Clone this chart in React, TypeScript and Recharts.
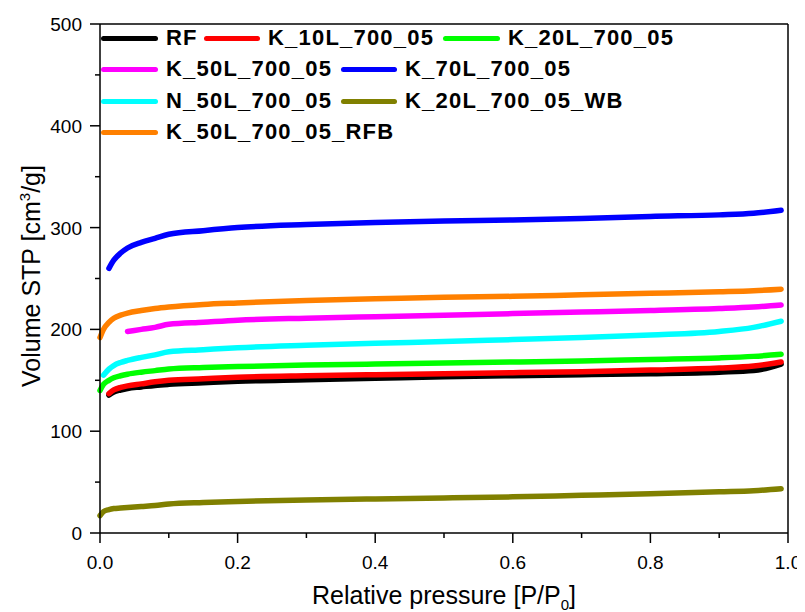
import React from 'react';
import { LineChart, Line, XAxis, YAxis, ReferenceLine } from 'recharts';

const pressure = [0, 0.005, 0.013, 0.02, 0.03, 0.04, 0.06, 0.08, 0.1, 0.15, 0.2, 0.3, 0.4, 0.5, 0.6, 0.7, 0.8, 0.9, 0.95, 0.99];

const rf = [null, null, 135.5, 138.5, 140.5, 142, 143.5, 145, 146, 147.5, 149, 150.5, 152, 153.5, 154.5, 155.5, 156.5, 158, 159.5, 166];
const k10 = [null, null, 137, 140.5, 143, 144.5, 146.5, 148.5, 150, 151.5, 153, 154.5, 155.5, 156.5, 157.5, 158.5, 160, 162, 164, 168];
const k20 = [140, 146, 150, 152.5, 154.5, 156, 158, 159.5, 161, 162.5, 163.5, 165, 166, 167, 168, 169, 170.5, 172, 173.5, 175.5];
const k50 = [null, null, null, null, null, 198, 200, 202, 205, 207, 209, 211, 212.5, 214, 215.5, 217, 218.5, 220.5, 222, 224];
const k70 = [null, null, 260, 268, 275, 280, 285.5, 289.5, 293.5, 297, 300, 303, 305, 306.5, 307.5, 309, 311, 312.5, 314, 317];
const n50 = [null, 155, 161, 164.5, 167.5, 169.5, 172.5, 175, 178, 180, 182, 184.5, 186.5, 188, 190, 192, 194.5, 198, 202, 208];
const k20wb = [17, 21, 23, 24, 24.5, 25, 26, 27, 28.5, 30, 31, 32.5, 33.5, 34.5, 35.5, 37, 38.5, 40.5, 41.5, 43.5];
const k50rfb = [192, 200, 207, 211, 214, 216, 218.5, 220.5, 222, 224.5, 226, 228.5, 230, 231.5, 232.5, 234, 235.5, 237, 238, 239.5];

const seriesNames = ['RF', 'K_10L_700_05', 'K_20L_700_05', 'K_50L_700_05', 'K_70L_700_05', 'N_50L_700_05', 'K_20L_700_05_WB', 'K_50L_700_05_RFB'];
const seriesValues = [rf, k10, k20, k50, k70, n50, k20wb, k50rfb];
const seriesColors = ['#000000', '#ff0000', '#00ff00', '#ff00ff', '#0000ff', '#00ffff', '#808000', '#ff8000'];

const xTicks = [0, 0.1, 0.2, 0.3, 0.4, 0.5, 0.6, 0.7, 0.8, 0.9, 1];
const yTicks = [0, 50, 100, 150, 200, 250, 300, 350, 400, 450, 500];

const data = pressure.map((p, i) => {
  const row: Record<string, number | null> = { p };
  seriesNames.forEach((name, s) => {
    row[name] = seriesValues[s][i];
  });
  return row;
});

const font = '"Liberation Sans", Arial, sans-serif';

// legend slots: [row, lineStart, textStart] in page px
const legendSlots = [
  [0, 101, 166],
  [0, 204, 268],
  [0, 443, 508],
  [1, 101, 166],
  [1, 341, 405],
  [2, 101, 166],
  [2, 341, 405],
  [3, 101, 166],
];
const rowY = [38, 69, 101, 132];

const YTick = (props: any) => {
  const { x, y, payload } = props;
  const major = payload.value % 100 === 0;
  return (
    <g>
      <line x1={x - (major ? 10 : 5)} x2={x} y1={y} y2={y} stroke="#000" strokeWidth={1.5} />
      {major && (
        <text x={x - 18} y={y + 7} textAnchor="end" fontSize={19} fontFamily={font} fill="#000">
          {payload.value}
        </text>
      )}
    </g>
  );
};

const XTick = (props: any) => {
  const { x, y, payload } = props;
  const major = Math.round(payload.value * 10) % 2 === 0;
  return (
    <g>
      <line x1={x} x2={x} y1={y} y2={y + (major ? 10 : 5)} stroke="#000" strokeWidth={1.5} />
      {major && (
        <text x={x} y={y + 36} textAnchor="middle" fontSize={19} fontFamily={font} fill="#000">
          {payload.value.toFixed(1)}
        </text>
      )}
    </g>
  );
};

export default function App() {
  return (
    <div style={{ position: 'relative', width: 805, height: 612, margin: '-8px 0 0 -8px', background: '#fff' }}>
      <LineChart
        width={805}
        height={612}
        data={data}
        margin={{ top: 24, right: 17, left: 40, bottom: 19 }}
      >
        <XAxis
          dataKey="p"
          type="number"
          domain={[0, 1]}
          ticks={xTicks}
          tickSize={0}
          tickMargin={0}
          tickLine={false}
          tick={<XTick />}
          height={60}
          axisLine={{ stroke: '#000', strokeWidth: 1.5 }}
          interval={0}
        />
        <YAxis
          type="number"
          domain={[0, 500]}
          ticks={yTicks}
          tickSize={0}
          tickMargin={0}
          tickLine={false}
          tick={<YTick />}
          width={60}
          axisLine={{ stroke: '#000', strokeWidth: 1.5 }}
          interval={0}
        />
        <ReferenceLine y={500} stroke="#000" strokeWidth={1.5} />
        <ReferenceLine x={1} stroke="#000" strokeWidth={1.5} />
        {seriesNames.map((name, s) => (
          <Line
            key={name}
            dataKey={name}
            type="monotone"
            stroke={seriesColors[s]}
            strokeWidth={5.5}
            strokeLinecap="round"
            dot={false}
            isAnimationActive={false}
          />
        ))}
      </LineChart>
      {seriesNames.map((name, s) => {
        const [row, lx, tx] = legendSlots[s];
        const y = rowY[row];
        return (
          <React.Fragment key={name}>
            <div style={{ position: 'absolute', left: lx, top: y - 2.5, width: tx - lx - 8, height: 5, borderRadius: 3, background: seriesColors[s] }} />
            <div style={{ position: 'absolute', left: tx, top: y - 14, fontFamily: font, fontWeight: 'bold', fontSize: 22, letterSpacing: '1.2px', lineHeight: '28px', color: '#000', whiteSpace: 'nowrap' }}>
              {name}
            </div>
          </React.Fragment>
        );
      })}
      <div style={{ position: 'absolute', left: 31, top: 276, transform: 'translate(-50%, -50%) rotate(-90deg)', fontFamily: font, fontSize: 25, whiteSpace: 'nowrap', color: '#000' }}>
        Volume STP [cm<sup style={{ fontSize: 15 }}>3</sup>/g]
      </div>
      <div style={{ position: 'absolute', left: 444, top: 597, transform: 'translate(-50%, -50%)', fontFamily: font, fontSize: 25, whiteSpace: 'nowrap', color: '#000' }}>
        Relative pressure [P/P<sub style={{ fontSize: 15 }}>0</sub>]
      </div>
    </div>
  );
}
